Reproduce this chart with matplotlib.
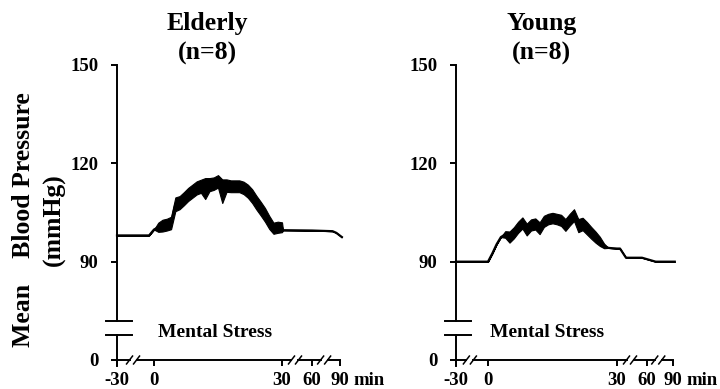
import numpy as np
import matplotlib.pyplot as plt
from matplotlib.transforms import blended_transform_factory

plt.rcParams['font.family'] = 'Liberation Serif'
plt.rcParams['font.weight'] = 'bold'

# minutes relative to start of mental stress, mean BP (mmHg), SE band
elderly_t = [-30, -4, 0, 1, 2, 3, 4, 5, 6, 7, 8, 9, 10, 11, 12, 13, 14, 15, 16,
             17, 18, 19, 20, 21, 22, 23, 24, 25, 26, 27, 28, 29, 30, 31, 60, 82,
             86, 92]
elderly_map = [98, 98, 99.8, 100.5, 101.0, 101.3, 101.8, 107.5, 108.0, 109.2,
               110.5, 111.5, 112.5, 113.0, 112.3, 113.5, 113.8, 114.5, 111.5,
               113.2, 113.0, 113.0, 113.0, 112.5, 111.5, 110.0, 108.0, 106.2,
               104.3, 102.0, 100.2, 100.5, 100.5, 99.6, 99.5, 99.3, 98.8, 97.5]
elderly_se = [0, 0, 0, 1.4, 1.8, 1.8, 1.9, 2.1, 2.0, 2.0, 2.0, 2.0, 2.0, 2.0,
              3.2, 2.0, 1.9, 1.9, 3.6, 1.9, 1.8, 1.8, 1.8, 1.9, 2.0, 2.1, 2.1,
              2.1, 2.1, 2.0, 1.7, 1.7, 1.5, 0, 0, 0, 0, 0]

young_t = [-30, 0, 1, 2, 3, 4, 5, 6, 7, 8, 9, 10, 11, 12, 13, 14, 15, 16, 17,
           18, 19, 20, 21, 22, 23, 24, 25, 26, 27, 28, 30, 33, 39, 55, 70, 92]
young_map = [90, 90, 92.5, 95.3, 97.5, 98.3, 97.5, 98.8, 100.5, 101.8, 99.8,
             101.2, 101.5, 100.2, 102.3, 103.0, 103.3, 103.0, 102.6, 101.2,
             102.8, 104.2, 101.0, 101.5, 100.2, 98.8, 97.5, 96.2, 94.8, 94.2,
             94.0, 94.0, 91.2, 91.2, 90.0, 90.0]
young_se = [0, 0, 0, 0, 0, 1.0, 1.7, 1.7, 1.7, 1.7, 1.8, 1.7, 1.7, 1.8, 1.7,
            1.6, 1.6, 1.6, 1.7, 1.8, 1.8, 1.8, 2.0, 1.9, 1.9, 1.8, 1.7, 1.4,
            0.7, 0, 0, 0, 0, 0, 0, 0]

x_ticks = [-30, 0, 30, 60, 90]
y_ticks = [0, 90, 120, 150]
titles = ['Elderly\n(n=8)', 'Young\n(n=8)']
axis_breaks = [-17, 43, 73]


def piecewise(src, dst):
    src = np.asarray(src, float)
    dst = np.asarray(dst, float)
    lo_slope = (dst[1] - dst[0]) / (src[1] - src[0])
    hi_slope = (dst[-1] - dst[-2]) / (src[-1] - src[-2])

    def f(v):
        v = np.asarray(v, float)
        out = np.interp(v, src, dst)
        out = np.where(v < src[0], dst[0] + (v - src[0]) * lo_slope, out)
        out = np.where(v > src[-1], dst[-1] + (v - src[-1]) * hi_slope, out)
        return out
    return f


W, H = 720, 389
fig = plt.figure(figsize=(W / 100, H / 100), dpi=100)

y_src, y_dst = [0, 7.6, 72, 150], [60, 67.6, 72, 150]
y_fwd, y_inv = piecewise(y_src, y_dst), piecewise(y_dst, y_src)

panels = [
    (117, [0, 37, 165, 195, 223], elderly_t, elderly_map, elderly_se, 1.0),
    (456, [0, 32, 161, 191, 217], young_t, young_map, young_se, 0.5),
]

lw = 1.4
for i, (left, pos, t, m, se, ms_x) in enumerate(panels):
    fwd, inv = piecewise(x_ticks, pos), piecewise(pos, x_ticks)
    ax = fig.add_axes([left / W, 29 / H, 229 / W, 295 / H])
    ax.set_xscale('function', functions=(fwd, inv))
    ax.set_yscale('function', functions=(y_fwd, y_inv))
    ax.set_xlim(-30, float(inv(229)))
    ax.set_ylim(0, 150)
    for s in ax.spines.values():
        s.set_visible(False)

    t = np.array(t, float)
    m = np.array(m, float)
    se = np.array(se, float)
    ax.fill_between(t, m - se, m + se, color='black', lw=0.8, clip_on=False)
    ax.plot(t, m, color='black', lw=1.6, clip_on=False)

    # broken y axis
    ax.plot([-30, -30], [72, 150], color='black', lw=lw, clip_on=False)
    ax.plot([-30, -30], [-1.8, 7.6], color='black', lw=lw, clip_on=False)
    for yb in (72, 7.6):
        ax.plot(inv([-11, 15]), [yb, yb], color='black', lw=lw, clip_on=False)

    # broken time axis
    seg_start = 0.0
    for b in axis_breaks:
        c = float(fwd(b))
        ax.plot(inv([seg_start, c - 3.5]), [0, 0], color='black', lw=lw,
                clip_on=False)
        for dx in (-3.5, 3.5):
            ax.plot(inv([c + dx - 3, c + dx + 3]), [-1.2, 1.2], color='black',
                    lw=1.1, clip_on=False)
        seg_start = c + 3.5
    ax.plot(inv([seg_start, pos[-1]]), [0, 0], color='black', lw=lw,
            clip_on=False)

    ax.set_xticks(x_ticks)
    ax.set_xticklabels([str(v) for v in x_ticks])
    ax.set_yticks(y_ticks)
    ax.set_yticklabels([str(v) for v in y_ticks])
    ax.tick_params(axis='x', direction='out', length=4, width=lw, pad=4.5,
                   labelsize=13.5)
    ax.tick_params(axis='y', direction='out', length=4.5, width=lw, pad=9,
                   labelsize=13.5)
    ax.minorticks_off()

    ax.annotate('min', xy=(90, 0), xytext=(9.5, -8.5),
                textcoords='offset points', ha='left', va='top',
                fontsize=13.5, annotation_clip=False)
    ax.text(ms_x, 0.092, 'Mental Stress', transform=ax.get_xaxis_transform(),
            ha='left', va='center', fontsize=14)
    ax.text(12.5, 1 - 12 / H, titles[i],
            transform=blended_transform_factory(ax.transData, fig.transFigure),
            ha='center', va='top', fontsize=18.5, linespacing=1.35)

fig.text(39 / W, 1 - 220 / H, 'Mean    Blood Pressure\n(mmHg)', rotation=90,
         ha='center', va='center', multialignment='center', fontsize=18.5,
         linespacing=1.4)

fig.savefig('out.png', dpi=100)
